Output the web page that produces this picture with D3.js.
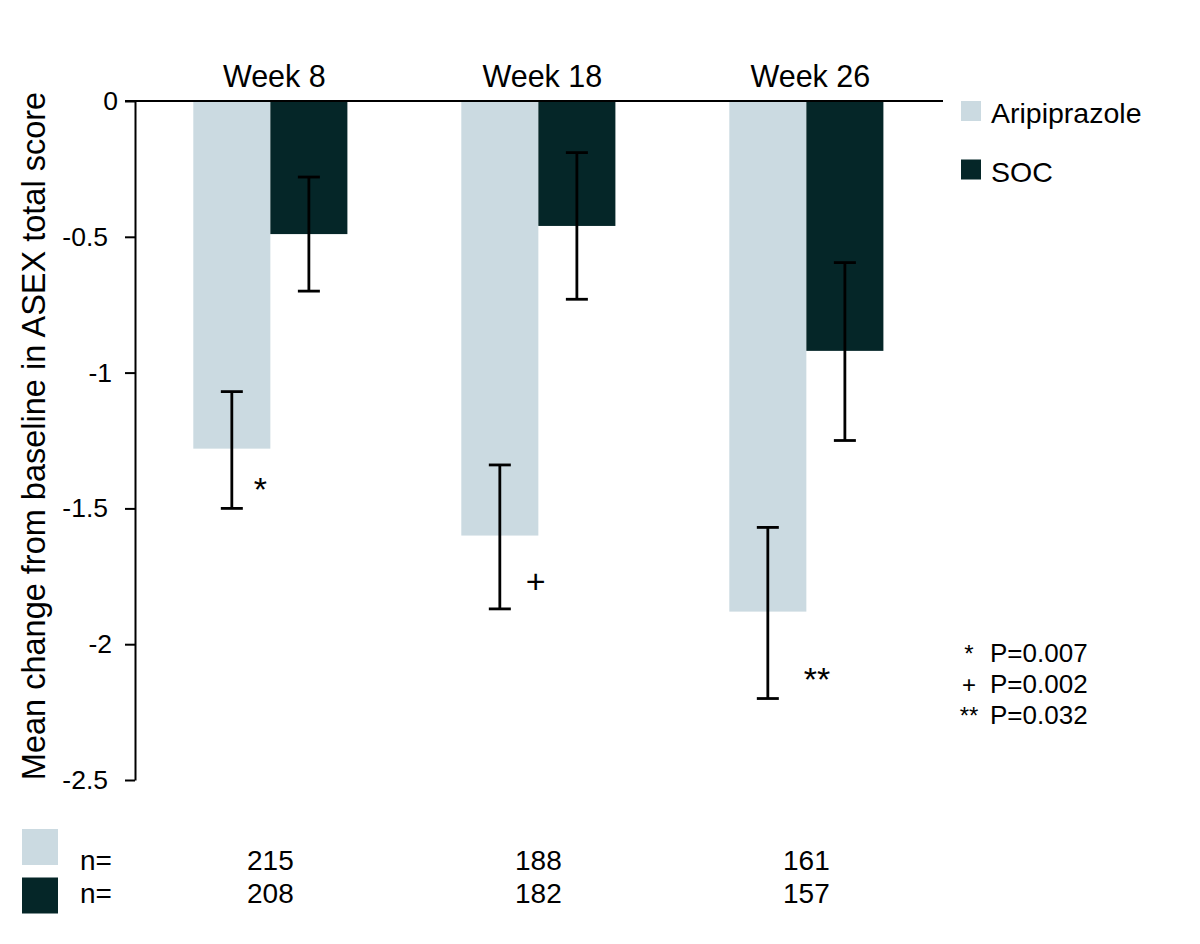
<!DOCTYPE html>
<html>
<head>
<meta charset="utf-8">
<script src="https://cdn.jsdelivr.net/npm/d3@7"></script>
<style>
  html, body { margin: 0; padding: 0; background: #fff; }
  svg { display: block; font-family: "Liberation Sans", Arial, Helvetica, sans-serif; }
</style>
</head>
<body>
<svg id="chart" width="1200" height="944"></svg>
<script>
// ---- data ----
const weeks = ["Week 8", "Week 18", "Week 26"];
const seriesNames = ["Aripiprazole", "SOC"];
const aripMean  = [-1.28, -1.60, -1.88];
const aripUpper = [-1.07, -1.34, -1.57];
const aripLower = [-1.50, -1.87, -2.20];
const socMean   = [-0.49, -0.46, -0.92];
const socUpper  = [-0.28, -0.19, -0.595];
const socLower  = [-0.70, -0.73, -1.25];
const aripN = [215, 188, 161];
const socN  = [208, 182, 157];
const sigMarks = ["*", "+", "**"];
const pSymbols = ["*", "+", "**"];
const pValues = ["P=0.007", "P=0.002", "P=0.032"];
const yTicks = [0, -0.5, -1, -1.5, -2, -2.5];
const yTitle = "Mean change from baseline in ASEX total score";

// ---- styles ----
const colors = { "Aripiprazole": "#cbdae1", "SOC": "#052628" };
const svg = d3.select("#chart");

const y = d3.scaleLinear().domain([0, -2.5]).range([101, 780]);
const x = d3.scaleBand().domain(weeks).range([193.3, 883.4]).paddingInner(0.425).paddingOuter(0);
const xs = d3.scaleBand().domain(seriesNames).range([0, x.bandwidth()]);

const rows = weeks.map((w, i) => ({
  week: w,
  bars: [
    { s: "Aripiprazole", mean: aripMean[i], up: aripUpper[i], lo: aripLower[i] },
    { s: "SOC", mean: socMean[i], up: socUpper[i], lo: socLower[i] }
  ]
}));

// bars
const g = svg.append("g");
rows.forEach(r => {
  r.bars.forEach(b => {
    g.append("rect")
      .attr("x", x(r.week) + xs(b.s))
      .attr("y", y(0))
      .attr("width", xs.bandwidth())
      .attr("height", y(b.mean) - y(0))
      .attr("fill", colors[b.s]);
  });
});

// error bars
const capW = 22;
rows.forEach(r => {
  r.bars.forEach(b => {
    const cx = x(r.week) + xs(b.s) + xs.bandwidth() / 2;
    const eg = svg.append("g").attr("stroke", "#000").attr("stroke-width", 2.8);
    eg.append("line").attr("x1", cx).attr("x2", cx).attr("y1", y(b.up)).attr("y2", y(b.lo));
    eg.append("line").attr("x1", cx - capW / 2).attr("x2", cx + capW / 2).attr("y1", y(b.up)).attr("y2", y(b.up));
    eg.append("line").attr("x1", cx - capW / 2).attr("x2", cx + capW / 2).attr("y1", y(b.lo)).attr("y2", y(b.lo));
  });
});

// significance markers
const markNudge = [0, 4, 14];
rows.forEach((r, i) => {
  const cx = x(r.week) + xs("Aripiprazole") + xs.bandwidth() / 2;
  const fs = 34;
  const m = sigMarks[i];
  const base = y(aripLower[i]) - 27 + (m === "+" ? 0.33 : 0.58) * fs;
  svg.append("text")
    .attr("x", cx + 22 + markNudge[i])
    .attr("y", base)
    .attr("font-size", fs)
    .attr("fill", "#000")
    .text(m);
});

// top zero line
svg.append("line")
  .attr("x1", 125).attr("x2", 943)
  .attr("y1", y(0)).attr("y2", y(0))
  .attr("stroke", "#000").attr("stroke-width", 2);

// y axis
const yAxis = d3.axisLeft(y)
  .tickValues(yTicks)
  .tickSize(10)
  .tickSizeOuter(0)
  .tickPadding(17)
  .tickFormat(d => String(d));
const ya = svg.append("g").attr("transform", "translate(135,0)").call(yAxis);
ya.select(".domain").attr("stroke", "#000").attr("stroke-width", 2);
ya.selectAll(".tick line").attr("stroke", "#000").attr("stroke-width", 2);
ya.selectAll(".tick text")
  .attr("font-size", 26.5)
  .attr("font-family", "Liberation Sans, Arial, sans-serif")
  .attr("fill", "#000")
  .attr("dx", d => d === 0 ? 10 : (Number.isInteger(d) ? 4 : 0));

// y title
svg.append("text")
  .attr("transform", "translate(45,436) rotate(-90)")
  .attr("text-anchor", "middle")
  .attr("font-size", 32.5)
  .attr("fill", "#000")
  .text(yTitle);

// week titles
svg.selectAll(".wk").data(weeks).enter().append("text")
  .attr("x", d => x(d) + x.bandwidth() / 2 + 4)
  .attr("y", 87)
  .attr("text-anchor", "middle")
  .attr("font-size", 30.5)
  .attr("fill", "#000")
  .text(d => d);

// legend
seriesNames.forEach((s, i) => {
  const ly = 101 + i * 58.5;
  svg.append("rect").attr("x", 961).attr("y", ly).attr("width", 20).attr("height", 20).attr("fill", colors[s]);
  svg.append("text").attr("x", 991).attr("y", ly + 22).attr("font-size", 28.5).attr("fill", "#000").text(s);
});

// p-value notes
pValues.forEach((p, i) => {
  const by = 662 + i * 31;
  svg.append("text").attr("x", 969).attr("y", by).attr("text-anchor", "middle")
    .attr("font-size", 24).attr("fill", "#000").text(pSymbols[i]);
  svg.append("text").attr("x", 990).attr("y", by).attr("font-size", 26).attr("fill", "#000").text(p);
});

// n table
const nRows = [{ s: "Aripiprazole", vals: aripN }, { s: "SOC", vals: socN }];
nRows.forEach((r, i) => {
  const top = 829 + i * 48.5;
  svg.append("rect").attr("x", 22).attr("y", top).attr("width", 36).attr("height", 36).attr("fill", colors[r.s]);
  const base = 870 + i * 32.7;
  svg.append("text").attr("x", 80).attr("y", base).attr("font-size", 28).attr("fill", "#000").text("n=");
  weeks.forEach((w, j) => {
    svg.append("text")
      .attr("x", x(w) + x.bandwidth() / 2)
      .attr("y", base)
      .attr("text-anchor", "middle")
      .attr("font-size", 28)
      .attr("fill", "#000")
      .text(r.vals[j]);
  });
});
</script>
</body>
</html>
